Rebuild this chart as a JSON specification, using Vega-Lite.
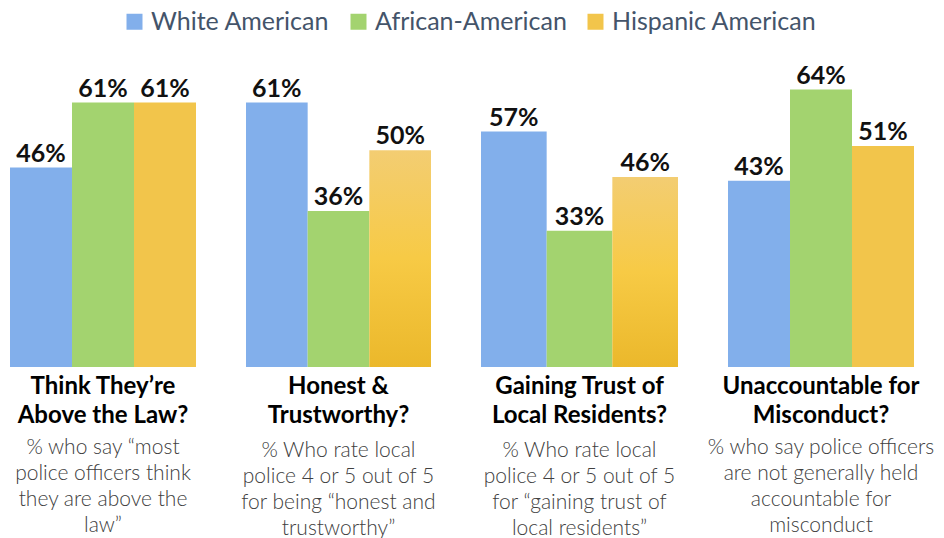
{
  "$schema": "https://vega.github.io/schema/vega-lite/v6.json",
  "padding": {"left": 10, "top": 9, "right": 0, "bottom": 0},
  "background": "white",
  "bounds": "flush",
  "spacing": 50,
  "data": {
    "values": [
      {"group": "law", "race": "White American", "value": 0.46},
      {"group": "law", "race": "African-American", "value": 0.61},
      {"group": "law", "race": "Hispanic American", "value": 0.61},
      {"group": "honest", "race": "White American", "value": 0.61},
      {"group": "honest", "race": "African-American", "value": 0.36},
      {"group": "honest", "race": "Hispanic American", "value": 0.50},
      {"group": "trust", "race": "White American", "value": 0.57},
      {"group": "trust", "race": "African-American", "value": 0.33},
      {"group": "trust", "race": "Hispanic American", "value": 0.46},
      {"group": "account", "race": "White American", "value": 0.43},
      {"group": "account", "race": "African-American", "value": 0.64},
      {"group": "account", "race": "Hispanic American", "value": 0.51}
    ]
  },
  "hconcat": [
    {
      "width": 186, "height": 306,
      "title": {"text": ["Think They’re", "Above the Law?"], "subtitle": ["% who say “most", "police officers think", "they are above the", "law”"], "subtitlePadding": 9},
      "transform": [{"filter": "datum.group === 'law'"}],
      "encoding": {
        "x": {"field": "race", "type": "nominal", "sort": ["White American", "African-American", "Hispanic American"], "axis": null, "scale": {"paddingInner": 0, "paddingOuter": 0}},
        "y": {"field": "value", "type": "quantitative", "axis": null, "scale": {"domain": [0, 0.706], "nice": false}}
      },
      "layer": [
        {"mark": {"type": "bar"}, "encoding": {"color": {"field": "race", "type": "nominal", "sort": ["White American", "African-American", "Hispanic American"], "scale": {"domain": ["White American", "African-American", "Hispanic American"], "range": ["#82AFEB", "#A3D36F", "#F2C54B"]}, "legend": {"orient": "none", "legendX": 112, "legendY": -52, "direction": "horizontal", "title": null, "symbolType": "square", "symbolSize": 256, "symbolStrokeWidth": 0, "labelFontSize": 25, "labelFont": "Lato", "labelColor": "#44546A", "labelLimit": 0, "columnPadding": 16, "labelOffset": 4}}}},
        {"mark": {"type": "text", "dy": -6, "baseline": "alphabetic", "fontSize": 25, "fontWeight": "bold", "font": "Lato", "color": "#111111"}, "encoding": {"text": {"field": "value", "type": "quantitative", "format": ".0%"}}}
      ]
    },
    {
      "width": 185, "height": 306,
      "title": {"text": ["Honest &", "Trustworthy?"], "subtitle": ["% Who rate local", "police 4 or 5 out of 5", "for being “honest and", "trustworthy”"], "subtitlePadding": 12},
      "transform": [{"filter": "datum.group === 'honest'"}],
      "encoding": {
        "x": {"field": "race", "type": "nominal", "sort": ["White American", "African-American", "Hispanic American"], "axis": null, "scale": {"paddingInner": 0, "paddingOuter": 0}},
        "y": {"field": "value", "type": "quantitative", "axis": null, "scale": {"domain": [0, 0.706], "nice": false}}
      },
      "layer": [
        {"transform": [{"filter": "datum.race !== 'Hispanic American'"}], "mark": {"type": "bar"}, "encoding": {"color": {"field": "race", "type": "nominal", "sort": ["White American", "African-American", "Hispanic American"]}}},
        {"transform": [{"filter": "datum.race === 'Hispanic American'"}], "mark": {"type": "bar", "color": {"gradient": "linear", "x1": 0, "y1": 0, "x2": 0, "y2": 1, "stops": [{"offset": 0, "color": "#F3CD72"}, {"offset": 0.5, "color": "#F7CA45"}, {"offset": 1, "color": "#EBB82B"}]}}, "encoding": {}},
        {"mark": {"type": "text", "dy": -6, "baseline": "alphabetic", "fontSize": 25, "fontWeight": "bold", "font": "Lato", "color": "#111111"}, "encoding": {"text": {"field": "value", "type": "quantitative", "format": ".0%"}}}
      ]
    },
    {
      "width": 197, "height": 306,
      "title": {"text": ["Gaining Trust of", "Local Residents?"], "subtitle": ["% Who rate local", "police 4 or 5 out of 5", "for “gaining trust of", "local residents”"], "subtitlePadding": 12},
      "transform": [{"filter": "datum.group === 'trust'"}],
      "encoding": {
        "x": {"field": "race", "type": "nominal", "sort": ["White American", "African-American", "Hispanic American"], "axis": null, "scale": {"paddingInner": 0, "paddingOuter": 0}},
        "y": {"field": "value", "type": "quantitative", "axis": null, "scale": {"domain": [0, 0.741], "nice": false}}
      },
      "layer": [
        {"transform": [{"filter": "datum.race !== 'Hispanic American'"}], "mark": {"type": "bar"}, "encoding": {"color": {"field": "race", "type": "nominal", "sort": ["White American", "African-American", "Hispanic American"]}}},
        {"transform": [{"filter": "datum.race === 'Hispanic American'"}], "mark": {"type": "bar", "color": {"gradient": "linear", "x1": 0, "y1": 0, "x2": 0, "y2": 1, "stops": [{"offset": 0, "color": "#F3CD72"}, {"offset": 0.5, "color": "#F7CA45"}, {"offset": 1, "color": "#EBB82B"}]}}, "encoding": {}},
        {"mark": {"type": "text", "dy": -6, "baseline": "alphabetic", "fontSize": 25, "fontWeight": "bold", "font": "Lato", "color": "#111111"}, "encoding": {"text": {"field": "value", "type": "quantitative", "format": ".0%"}}}
      ]
    },
    {
      "width": 186, "height": 306,
      "title": {"text": ["Unaccountable for", "Misconduct?"], "subtitle": ["% who say police officers", "are not generally held", "accountable for", "misconduct"], "subtitlePadding": 9},
      "transform": [{"filter": "datum.group === 'account'"}],
      "encoding": {
        "x": {"field": "race", "type": "nominal", "sort": ["White American", "African-American", "Hispanic American"], "axis": null, "scale": {"paddingInner": 0, "paddingOuter": 0}},
        "y": {"field": "value", "type": "quantitative", "axis": null, "scale": {"domain": [0, 0.706], "nice": false}}
      },
      "layer": [
        {"mark": {"type": "bar"}, "encoding": {"color": {"field": "race", "type": "nominal", "sort": ["White American", "African-American", "Hispanic American"]}}},
        {"mark": {"type": "text", "dy": -6, "baseline": "alphabetic", "fontSize": 25, "fontWeight": "bold", "font": "Lato", "color": "#111111"}, "encoding": {"text": {"field": "value", "type": "quantitative", "format": ".0%"}}}
      ]
    }
  ],
  "resolve": {"scale": {"x": "independent", "y": "independent", "color": "shared"}, "legend": {"color": "shared"}},
  "config": {
    "view": {"stroke": null},
    "title": {
      "orient": "bottom", "anchor": "middle", "frame": "group", "offset": 8,
      "font": "Lato", "fontSize": 24, "fontWeight": "bold", "color": "#000000", "lineHeight": 29,
      "subtitleFont": "Lato", "subtitleFontSize": 21, "subtitleFontWeight": 300, "subtitleColor": "#404040", "subtitleLineHeight": 26
    }
  }
}
